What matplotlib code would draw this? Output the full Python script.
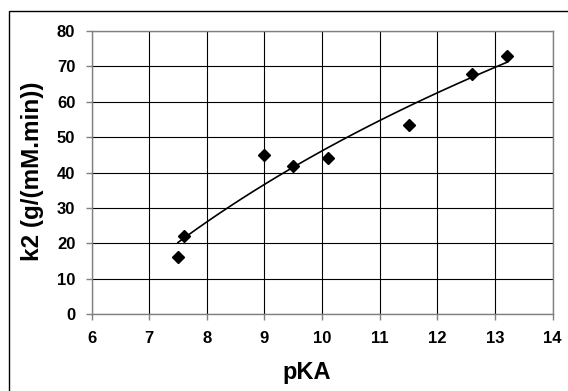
import numpy as np
import matplotlib
matplotlib.use("Agg")
import matplotlib.pyplot as plt
from matplotlib.patches import Rectangle

plt.rcParams['font.family'] = ['Liberation Sans', 'DejaVu Sans']
plt.rcParams['font.weight'] = 'bold'

# data
pka = np.array([7.5, 7.6, 9.0, 9.5, 10.1, 11.5, 12.6, 13.2])
k2 = np.array([16.2, 22.2, 45.1, 41.9, 44.2, 53.5, 67.8, 72.9])

xticks = [6, 7, 8, 9, 10, 11, 12, 13, 14]
yticks = [0, 10, 20, 30, 40, 50, 60, 70, 80]

# logarithmic trend line, as Excel draws it
coef = np.polyfit(np.log(pka), k2, 1)
x_fit = np.linspace(pka.min(), pka.max(), 100)
y_fit = coef[0] * np.log(x_fit) + coef[1]

W, H = 568, 391
fig = plt.figure(figsize=(W/100, H/100), dpi=100)
ax = fig.add_axes([91.5/W, 1-314.3/H, (552.7-91.5)/W, (314.3-31)/H])

# outer chart border (cut off at right and bottom)
fig.patches.append(Rectangle((9/W, -0.1), 1.2, 1-11/H+0.1, transform=fig.transFigure,
                             fill=False, edgecolor='black', linewidth=1.0))

ax.plot(x_fit, y_fit, color='black', linewidth=1.2, zorder=3)
ax.plot(pka, k2, linestyle='none', marker='D', markersize=6.5, color='black', zorder=4)

ax.set_xlim(6, 14)
ax.set_ylim(0, 80)
ax.set_xticks(xticks)
ax.set_yticks(yticks)
ax.grid(True, color='black', linewidth=0.8)
ax.set_axisbelow(True)
for s in ax.spines.values():
    s.set_color('#808080')
    s.set_linewidth(1.0)
ax.tick_params(direction='out', length=4.3, width=1, color='#808080', labelsize=12)
ax.tick_params(axis='x', pad=7.8)
ax.tick_params(axis='y', pad=7.4)

ax.set_xlabel('pKA', fontsize=17, fontweight='bold', va='center')
ax.xaxis.set_label_coords(306.5/W, (H-372.8)/H, transform=fig.transFigure)
ax.set_ylabel('k2 (g/(mM.min))', fontsize=17.5, fontweight='bold', va='center')
ax.yaxis.set_label_coords(33/W, (H-171.5)/H, transform=fig.transFigure)

fig.savefig('out.png', dpi=100)
